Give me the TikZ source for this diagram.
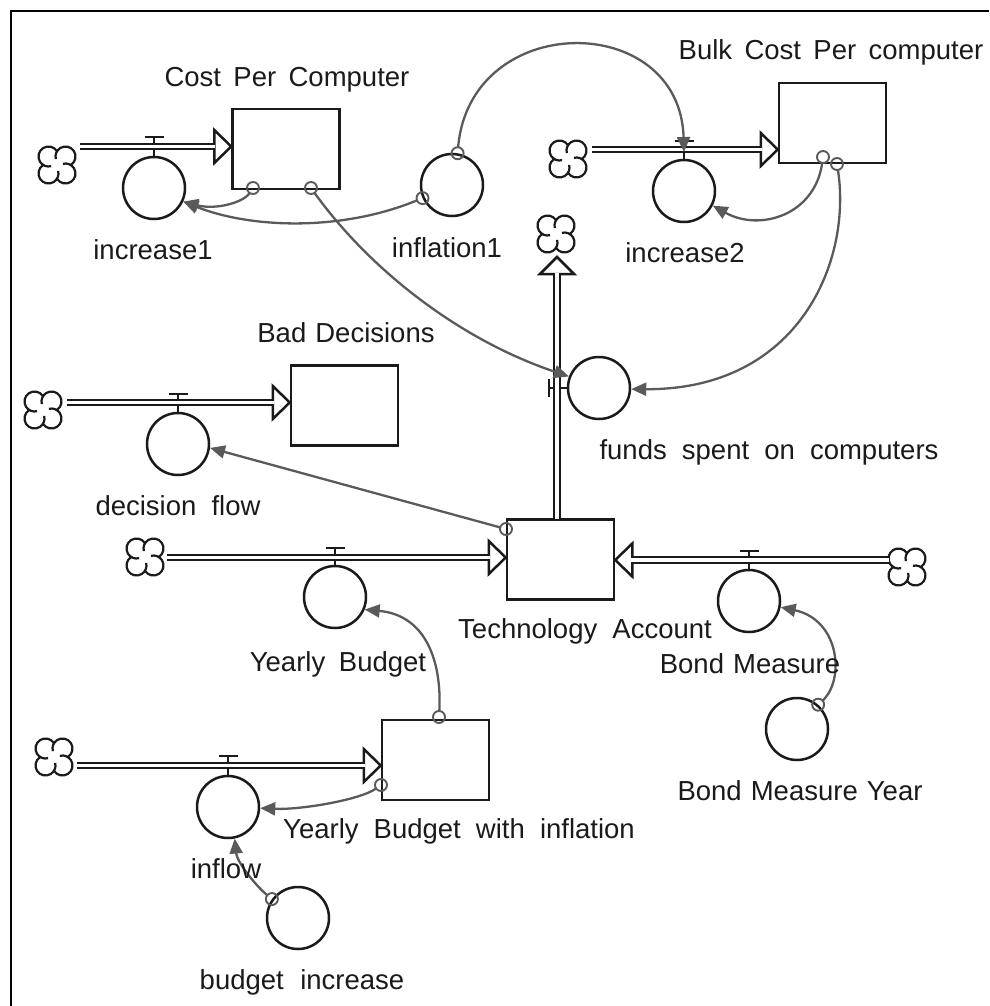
\documentclass[tikz,border=0pt]{standalone}
\usepackage{fontspec}
\setmainfont{Liberation Sans}
\usetikzlibrary{arrows.meta,calc}
\definecolor{ink}{HTML}{1A1A1A}
\definecolor{conn}{HTML}{5A5A5A}
\definecolor{txt}{HTML}{1A1A1A}
\newcommand{\lblsize}{\fontsize{27.5}{33}\selectfont}
\newcommand{\wsp}[1]{\spaceskip=#1em\relax}
\tikzset{
  shapeline/.style={draw=ink, line width=2.5pt, line join=miter},
  stock/.style={shapeline, rectangle, minimum width=107pt, minimum height=80pt, inner sep=0pt},
  aux/.style={shapeline, circle, minimum size=62pt, inner sep=0pt},
  pipe/.style={draw=ink, line width=2.3pt, double=white, double distance=3.2pt},
  valveline/.style={draw=ink, line width=2.4pt},
  link/.style={draw=conn, line width=2.3pt, shorten <=6pt, -{Triangle[length=15pt,width=13pt]}},
  linkdot/.style={draw=conn, line width=1.9pt},
  lbl/.style={text=txt, inner sep=0pt, anchor=base, font=\lblsize},
  cloudicon/.pic={
    \foreach \p in {45,135,225,315}{
      \pgfmathsetmacro\sa{\p+103}
      \pgfmathsetmacro\ea{\p-150}
      \draw[draw=ink, line width=2.2pt] (\p:12.02) ++(\sa:10) arc[start angle=\sa, end angle=\ea, radius=10];
    }
  }
}
\begin{document}
\begin{tikzpicture}[x=1pt, y=-1pt]
\useasboundingbox (0,0) rectangle (989,1006);
% frame
\draw[draw=black, line width=2.6pt, line join=miter] (11,1006) -- (11,11) -- (989,11);

% stocks
\node[stock] (cpc)  at (286,149)   {};
\node[stock] (bcpc) at (832.5,123) {};
\node[stock] (bd)   at (344.5,405.5) {};
\node[stock] (ta)   at (560.5,559.5) {};
\node[stock] (ybwi) at (435.5,760) {};

% auxiliaries / flows
\node[aux] (inc1)   at (154,188) {};
\node[aux] (infl)   at (452,185) {};
\node[aux] (inc2)   at (684,191) {};
\node[aux] (funds)  at (599,388) {};
\node[aux] (dec)    at (178,444) {};
\node[aux] (yb)     at (335,597) {};
\node[aux] (bond)   at (749,601) {};
\node[aux] (bmy)    at (797,729) {};
\node[aux] (inflow) at (228,807) {};
\node[aux] (binc)   at (298,918) {};

% clouds
\coordinate (cl1) at (57,165);
\coordinate (cl2) at (568,159);
\coordinate (cl3) at (556,234);
\coordinate (cl4) at (43,410);
\coordinate (cl5) at (145,557);
\coordinate (cl6) at (907,567);
\coordinate (cl7) at (54,757);
\foreach \c in {cl1,cl2,cl3,cl4,cl5,cl6,cl7} { \pic at (\c) {cloudicon}; }

% pipe start points
\coordinate (p1s) at (80,146.5);
\coordinate (p2s) at (592,149.5);
\coordinate (p4s) at (67,402.5);
\coordinate (p5s) at (167,557.5);
\coordinate (p6s) at (889,560);
\coordinate (p7s) at (77,765.5);
\coordinate (p3s) at (557,519);
% arrow apexes
\coordinate (a1) at (cpc.west |- p1s);
\coordinate (a2) at (bcpc.west |- p2s);
\coordinate (a4) at (bd.west |- p4s);
\coordinate (a5) at (ta.west |- p5s);
\coordinate (a6) at (ta.east |- p6s);
\coordinate (a7) at (ybwi.west |- p7s);
\coordinate (a3) at (557,257);

% valve stems (drawn under pipes)
\foreach \v/\h in {inc1/19, inc2/18, dec/18, yb/17, bond/18, inflow/19}{
  \draw[valveline] (\v.north) -- ($(\v.north)+(0,-\h)$);
  \draw[valveline] ($(\v.north)+(-9.5,-\h)$) -- ($(\v.north)+(9.5,-\h)$);
}
\draw[valveline] (funds.west) -- ($(funds.west)+(-18,0)$);
\draw[valveline] ($(funds.west)+(-18,-9)$) -- ($(funds.west)+(-18,9)$);

% arrow heads of pipes
\foreach \a in {a1,a2,a4,a5,a7}{
  \draw[shapeline, fill=white] ($(\a)+(-17,-16.5)$) -- (\a) -- ($(\a)+(-17,16.5)$) -- cycle;
}
\draw[shapeline, fill=white] ($(a6)+(17,-16.5)$) -- (a6) -- ($(a6)+(17,16.5)$) -- cycle;
\draw[shapeline, fill=white] ($(a3)+(-17,17)$) -- (a3) -- ($(a3)+(17,17)$) -- cycle;

% pipes
\draw[pipe] (p1s) -- ($(a1)+(-16,0)$);
\draw[pipe] (p2s) -- ($(a2)+(-16,0)$);
\draw[pipe] (p4s) -- ($(a4)+(-16,0)$);
\draw[pipe] (p5s) -- ($(a5)+(-16,0)$);
\draw[pipe] (p6s) -- ($(a6)+(16,0)$);
\draw[pipe] (p7s) -- ($(a7)+(-16,0)$);
\draw[pipe] (p3s) -- ($(a3)+(0,16)$);

% connector start points
\coordinate (c1) at (253,188);
\coordinate (c2) at (infl.204);
\coordinate (c3) at (infl.80);
\coordinate (c4) at (311,188);
\coordinate (c5) at (823,157);
\coordinate (c6) at (837,164);
\coordinate (c7) at (506,529);
\coordinate (c8) at (439,717);
\coordinate (c9) at (381,785);
\coordinate (c10) at (binc.144);
\coordinate (c11) at (bmy.49);
\coordinate (v2) at (684,152);
\foreach \c in {c1,c2,c3,c4,c5,c6,c7,c8,c9,c10,c11}{ \draw[linkdot] (\c) circle[radius=6pt]; }

% connectors
\draw[link] (c1) .. controls (243,203) and (215,210) .. (inc1.-25);
\draw[link] (c2) .. controls (340,232) and (250,228) .. (inc1.-25);
\draw[link] (c3) .. controls (470,10) and (680,10) .. (v2);
\draw[link] (c4) .. controls (370,270) and (460,340) .. (funds.159);
\draw[link] (c5) .. controls (815,215) and (760,232) .. (inc2.-27);
\draw[link] (c6) .. controls (852,260) and (800,390) .. (funds.-2);
\draw[link] (c7) -- (dec.-7);
\draw[link] (c8) .. controls (442,660) and (425,615) .. (yb.-23);
\draw[link] (c9) .. controls (360,800) and (300,810) .. (inflow.-2);
\draw[link] (c10) .. controls (255,885) and (237,862) .. (inflow.-78);
\draw[link] (c11) .. controls (845,680) and (840,620) .. (bond.-11);

% labels
\node[lbl] (lcpc)   at (287,87)  {\wsp{0.45}Cost Per Computer};
\node[lbl] (lbcpc)  at (831,60)  {\wsp{0.45}Bulk Cost Per computer};
\node[lbl] (linc1)  at (153,259) {increase1};
\node[lbl] (linfl)  at (447,257) {inflation1};
\node[lbl] (linc2)  at (685,262) {increase2};
\node[lbl] (lbd)    at (346,342) {\wsp{0.33}Bad Decisions};
\node[lbl] (lfunds) at (769,459) {\wsp{0.55}funds spent on computers};
\node[lbl] (ldec)   at (178,515) {\wsp{0.55}decision flow};
\node[lbl] (lta)    at (585,638) {\wsp{0.55}Technology Account};
\node[lbl] (lyb)    at (338,671) {\wsp{0.5}Yearly Budget};
\node[lbl] (lbond)  at (750,673) {\wsp{0.33}Bond Measure};
\node[lbl] (lbmy)   at (800,800) {\wsp{0.33}Bond Measure Year};
\node[lbl] (lybwi)  at (459,838) {\wsp{0.55}Yearly Budget with inflation};
\node[lbl] (linflow) at (226,878) {inflow};
\node[lbl] (lbinc)  at (302,989) {\wsp{0.6}budget increase};
\end{tikzpicture}
\end{document}
